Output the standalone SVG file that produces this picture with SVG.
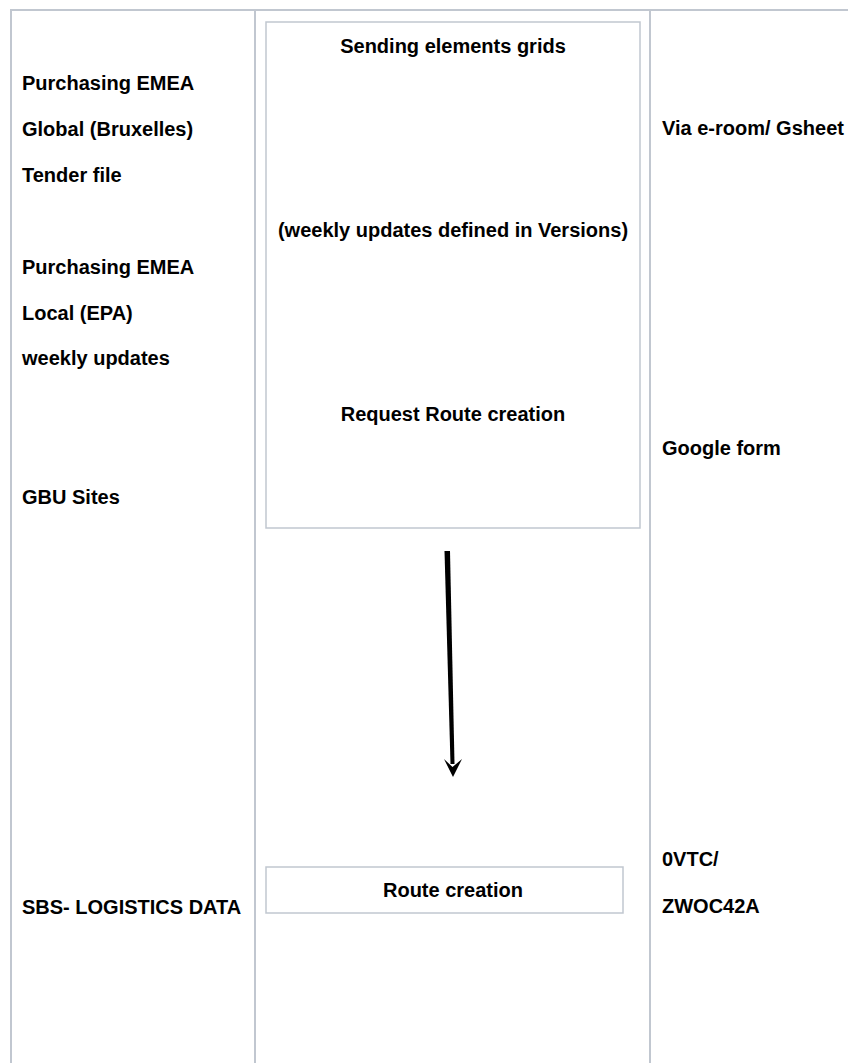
<svg xmlns="http://www.w3.org/2000/svg" width="848" height="1063" viewBox="0 0 848 1063">
<style>
.grid{stroke:#c1c7d0;stroke-width:2;fill:none}
.box{stroke:#c1c7d0;stroke-width:1.5;fill:#ffffff}
.t{font-family:"Liberation Sans",Arial,sans-serif;font-weight:bold;font-size:20px;fill:#000}
.c{text-anchor:middle}
</style>
<rect width="848" height="1063" fill="#ffffff"/>
<g id="table">
<line class="grid" x1="10" y1="10" x2="848" y2="10"/>
<line class="grid" x1="11" y1="10" x2="11" y2="1063"/>
<line class="grid" x1="255" y1="10" x2="255" y2="1063"/>
<line class="grid" x1="650" y1="10" x2="650" y2="1063"/>
</g>
<g id="left-column">
<text class="t" x="22" y="90">Purchasing EMEA</text>
<text class="t" x="22" y="136">Global (Bruxelles)</text>
<text class="t" x="22" y="182">Tender file</text>
<text class="t" x="22" y="274">Purchasing EMEA</text>
<text class="t" x="22" y="320">Local (EPA)</text>
<text class="t" x="22" y="365">weekly updates</text>
<text class="t" x="22" y="504">GBU Sites</text>
<text class="t" x="22" y="914">SBS- LOGISTICS DATA</text>
</g>
<g id="node-sending">
<rect class="box" x="266" y="22" width="374" height="506"/>
<text class="t c" x="453" y="53">Sending elements grids</text>
<text class="t c" x="453" y="237">(weekly updates defined in Versions)</text>
<text class="t c" x="453" y="421">Request Route creation</text>
</g>
<g id="node-route">
<rect class="box" x="266" y="867" width="357" height="46"/>
<text class="t c" x="453" y="897">Route creation</text>
</g>
<g id="right-column">
<text class="t" x="662" y="135">Via e-room/ Gsheet</text>
<text class="t" x="662" y="455">Google form</text>
<text class="t" x="662" y="866">0VTC/</text>
<text class="t" x="662" y="913">ZWOC42A</text>
</g>
<g id="connectors">
<path d="M444.5 551 L450 551 L454.5 764 L450.5 764 Z" fill="#000"/>
<path d="M444 759 L452.5 767 L462 759 L453 777 Z" fill="#000"/>
</g>
</svg>
